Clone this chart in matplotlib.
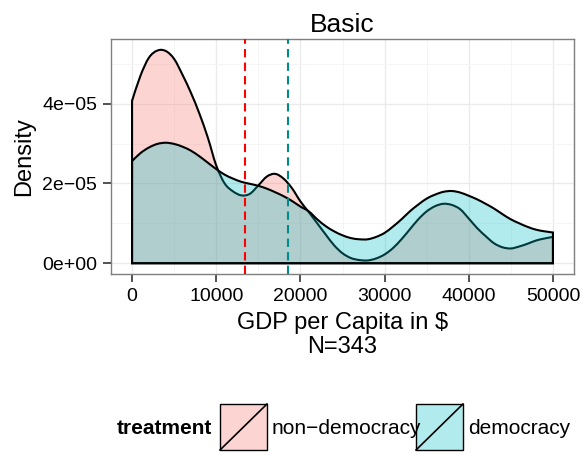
import numpy as np
import matplotlib
matplotlib.use('Agg')
import matplotlib.pyplot as plt
from matplotlib.patches import Rectangle, PathPatch
from matplotlib.path import Path

plt.rcParams['font.family'] = ['Liberation Sans', 'DejaVu Sans']

# GDP grid (every 1000 $) and densities (units of 1e-05)
gdp = np.linspace(0, 50000, 51)
dens_nondem = [4.07, 4.70, 5.15, 5.33, 5.32, 5.12, 4.72, 4.27, 3.75, 3.15,
               2.45, 2.00, 1.80, 1.70, 1.74, 1.95, 2.17, 2.24, 2.12, 1.88,
               1.55, 1.28, 1.00, 0.72, 0.45, 0.25, 0.13, 0.08, 0.07, 0.12,
               0.22, 0.38, 0.60, 0.85, 1.10, 1.30, 1.43, 1.49, 1.46, 1.35,
               1.12, 0.88, 0.68, 0.50, 0.40, 0.37, 0.42, 0.49, 0.57, 0.62,
               0.66]
dens_dem = [2.56, 2.76, 2.90, 2.99, 3.02, 2.99, 2.92, 2.82, 2.68, 2.52,
            2.36, 2.22, 2.12, 2.04, 1.99, 1.94, 1.87, 1.78, 1.68, 1.56,
            1.42, 1.30, 1.10, 0.93, 0.80, 0.70, 0.63, 0.60, 0.60, 0.66,
            0.76, 0.92, 1.10, 1.30, 1.47, 1.62, 1.72, 1.79, 1.81, 1.77,
            1.69, 1.60, 1.49, 1.37, 1.23, 1.10, 1.00, 0.91, 0.84, 0.80,
            0.77]
mean_nondem = 13400
mean_dem = 18560

groups = ['non\u2212democracy', 'democracy']
fill_colors = ['#F8766D', '#00BFC4']
mean_colors = ['#FF0000', '#008B8B']

xticks = [0, 10000, 20000, 30000, 40000, 50000]
yticks = [0, 2e-05, 4e-05]
ytick_labels = ['0e+00', '2e\u221205', '4e\u221205']


def density_path(x, y):
    # smooth outline through the read points (Catmull-Rom as cubic Bezier),
    # closed down to the baseline like geom_density
    pts = np.column_stack([x, y])
    verts = [pts[0]]
    codes = [Path.MOVETO]
    n = len(pts)
    for i in range(n - 1):
        p0 = pts[max(i - 1, 0)]
        p1 = pts[i]
        p2 = pts[i + 1]
        p3 = pts[min(i + 2, n - 1)]
        verts += [p1 + (p2 - p0) / 6, p2 - (p3 - p1) / 6, p2]
        codes += [Path.CURVE4] * 3
    verts += [(x[-1], 0), (x[0], 0), pts[0]]
    codes += [Path.LINETO, Path.LINETO, Path.CLOSEPOLY]
    return Path(verts, codes)


fig = plt.figure(figsize=(5.82, 4.55), dpi=100)
ax = fig.add_axes([111/582, 1 - 274/455, 463/582, 235/455])

for dens, col in zip([dens_nondem, dens_dem], fill_colors):
    y = np.array(dens) * 1e-05
    ax.add_patch(PathPatch(density_path(gdp, y),
                           facecolor=matplotlib.colors.to_rgba(col, 0.3),
                           edgecolor='black', linewidth=1.5, zorder=2))

for m, col in zip([mean_nondem, mean_dem], mean_colors):
    ax.axvline(m, color=col, linewidth=1.5, dashes=(4, 2.5), zorder=3)

ax.set_xlim(-2500, 52500)
ax.set_ylim(-0.27e-05, 5.62e-05)

ax.set_xticks(xticks)
ax.set_xticklabels([str(v) for v in xticks])
ax.set_yticks(yticks)
ax.set_yticklabels(ytick_labels)
ax.set_xticks([5000, 15000, 25000, 35000, 45000], minor=True)
ax.set_yticks([1e-05, 3e-05, 5e-05], minor=True)
ax.tick_params(which='major', length=6, width=1.1, color='#222222',
               labelsize=14, labelcolor='black', pad=4)
ax.tick_params(which='minor', length=0)
ax.grid(which='major', color='#EBEBEB', linewidth=1)
ax.grid(which='minor', color='#F5F5F5', linewidth=0.7)
ax.set_axisbelow(True)
for sp in ax.spines.values():
    sp.set_color('#7F7F7F')
    sp.set_linewidth(1)

ax.set_title('Basic', fontsize=19, pad=5)
ax.set_ylabel('Density', fontsize=17, labelpad=5)
ax.set_xlabel('GDP per Capita in $\nN=343', fontsize=17, labelpad=5,
              linespacing=1.15)

# legend drawn at the bottom, ggplot style
lax = fig.add_axes([0, 0, 1, 1])
lax.set_xlim(0, 582)
lax.set_ylim(455, 0)
lax.axis('off')
lax.text(212, 428, 'treatment', fontsize=15, fontweight='bold',
         ha='right', va='center')
key_x = [220, 416]
for kx, col, lab in zip(key_x, fill_colors, groups):
    lax.add_patch(Rectangle((kx, 404), 47, 46,
                            facecolor=matplotlib.colors.to_rgba(col, 0.3),
                            edgecolor='black', linewidth=1))
    lax.plot([kx, kx + 47], [450, 404], color='black', linewidth=1.2)
    lax.text(kx + 52, 428, lab, fontsize=15, ha='left', va='center')

fig.savefig('out.png', dpi=100)
